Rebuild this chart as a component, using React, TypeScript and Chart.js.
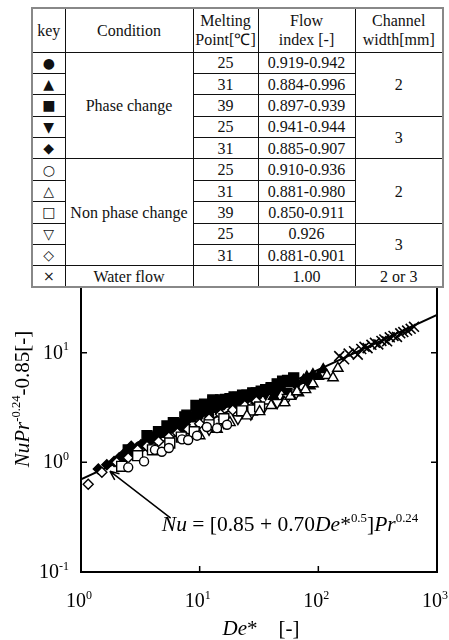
import React, { useEffect, useRef } from "react";
import { Chart, registerables } from "chart.js";

Chart.register(...registerables);

const SERIF = '"Liberation Serif", "Times New Roman", serif';

// ---------- table content ----------
const tableHeaders = ["key", "Condition", "Melting\nPoint[℃]", "Flow\nindex [-]", "Channel\nwidth[mm]"];
const tableKeys = ["●", "▲", "■", "▼", "◆", "○", "△", "□", "▽", "◇", "×"];
const meltingPoints = ["25", "31", "39", "25", "31", "25", "31", "39", "25", "31", ""];
const flowIndex = ["0.919-0.942", "0.884-0.996", "0.897-0.939", "0.941-0.944", "0.885-0.907", "0.910-0.936", "0.881-0.980", "0.850-0.911", "0.926", "0.881-0.901", "1.00"];
const conditions = ["Phase change", "Non phase change", "Water flow"];
const channelWidths = ["2", "3", "2", "3", "2 or 3"];

// ---------- chart data: [De*, NuPr^-0.24 - 0.85] ----------
const pc25w2: [number, number][] = [[2.2, 1.1], [2.6, 1.25], [2.9, 1.3], [3.1, 1.4], [3.5, 1.5], [3.8, 1.6], [4.2, 1.7], [4.5, 1.8], [5, 1.9], [5.5, 2.0], [6, 2.1], [6.5, 2.25], [7, 2.1], [7.5, 2.4], [8, 2.55], [8.8, 2.6], [9.5, 2.8], [10, 2.9], [11, 3.0], [12, 2.7], [13, 3.3], [15, 3.3], [16, 3.5], [17.5, 3.6], [19, 3.7], [21, 3.8], [23, 3.9], [26, 4.0], [28, 4.2], [31, 4.3], [34, 4.5]];
const pc31w2: [number, number][] = [[4, 1.6], [5, 1.8], [6.5, 2.1], [7.5, 2.35], [8.5, 2.5], [9.5, 2.75], [11, 2.9], [12.5, 3.05], [14, 3.2], [16, 3.4], [18, 3.6], [20, 3.7], [22, 3.8], [24, 3.9], [27, 4.1], [30, 3.7], [33, 4.4], [36, 4.5], [40, 4.6], [42, 4.0], [45, 4.8], [48, 5.0], [50, 3.5], [55, 5.2], [60, 5.3], [65, 5.5], [68, 4.3], [75, 5.6], [80, 6.0], [85, 5.0], [90, 6.3], [100, 6.1], [110, 7.0]];
const pc39w2: [number, number][] = [[2.5, 1.3], [3.6, 1.75], [4.5, 1.9], [5.3, 2.15], [6, 2.3], [7.5, 2.6], [7.8, 2.7], [9.3, 3.3], [10, 3.2], [11, 3.4], [12.9, 3.7], [13, 3.6], [15, 3.7], [16.5, 3.75], [18, 3.8], [19.5, 3.95], [21, 3.9], [23, 4.1], [25, 4.1], [28, 4.3], [30, 4.3], [33, 4.45], [36, 4.6], [40, 4.8], [45, 5.2], [50, 5.5], [55, 5.6], [62, 5.9]];
const pc25w3: [number, number][] = [[10, 2.6], [14, 3.0], [20, 3.4], [28, 3.8], [36, 4.2], [45, 4.5], [54, 4.4], [65, 5.0], [80, 5.5]];
const pc31w3: [number, number][] = [[1.4, 0.87], [1.65, 0.95], [1.9, 1.02], [2.1, 1.1], [2.3, 1.2], [2.65, 1.4], [2.8, 1.3], [3.2, 1.45], [3.5, 1.5], [4, 1.7], [4.5, 1.8], [5, 1.9], [5.5, 2.0], [6, 2.15], [6.8, 2.25], [7.5, 2.4], [8.2, 2.55], [9, 2.7], [10, 2.8], [11, 3.0], [12.5, 3.1], [14, 3.2], [16, 3.35], [18, 3.5], [21, 3.6], [24, 3.8], [28, 4.0], [32, 4.2]];
const npc25w2: [number, number][] = [[2.5, 0.9], [3.4, 1.02], [4.2, 1.3], [4.8, 1.25], [5.5, 1.35], [7.1, 1.62], [8, 1.6], [9.5, 1.75], [11.5, 2.1], [14, 2.05], [17, 2.2]];
const npc31w2: [number, number][] = [[10, 1.75], [14, 2.0], [18, 2.3], [25, 2.65], [32, 2.9], [40, 3.3], [52, 3.5], [58, 4.0], [66, 4.4], [78, 4.6], [90, 5.2], [118, 6.2], [133, 5.9], [146, 7.2]];
const npc39w2: [number, number][] = [[2.2, 0.92], [3, 1.15], [4, 1.3], [5.6, 1.5], [7, 1.7], [9, 1.9], [12, 2.2], [16, 2.5], [22.6, 2.95], [28, 3.0], [32, 3.2]];
const npc25w3: [number, number][] = [[12, 2.0], [16, 2.3], [21, 2.5], [27, 2.75], [35, 3.2], [45, 3.5], [55, 3.9], [65, 4.3]];
const npc31w3: [number, number][] = [[1.15, 0.63], [1.5, 0.81], [2.0, 1.0], [2.5, 1.1], [3.0, 1.3], [3.6, 1.4], [4.5, 1.55], [5.5, 1.7], [6.5, 1.85], [8, 2.0], [10, 2.25], [12, 2.5], [15, 2.75], [19, 3.0], [24, 3.3], [30, 3.6]];
const waterFlow: [number, number][] = [[150, 9.3], [165, 8.7], [180, 9.8], [200, 10.3], [215, 9.6], [230, 10.8], [245, 11.3], [260, 11.0], [280, 11.8], [300, 12.3], [320, 11.9], [340, 12.8], [360, 13.2], [380, 12.7], [400, 13.8], [430, 14.2], [460, 13.9], [490, 15.0], [520, 15.4], [560, 15.9], [600, 16.5], [640, 17.2]];

// correlation line Nu = [0.85 + 0.70 De*^0.5] Pr^0.24
const fitDe = [1, 1000];
const fitY = [0.70, 22.14];

// axis ticks
const xTickValues = [1, 10, 100, 1000];
const xTickExp = ["0", "1", "2", "3"];
const yTickValues = [0.1, 1, 10];
const yTickExp = ["-1", "0", "1"];

// annotation (data coords)
const arrowTip = [1.75, 0.83];
const arrowTail = [5.7, 0.31];
const annotationAt = [4.8, 0.235];

type Part = { t: string; i?: boolean; sup?: boolean };

function partsWidth(ctx: CanvasRenderingContext2D, parts: Part[], size: number) {
  let w = 0;
  for (const p of parts) {
    const s = p.sup ? size * 0.6 : size;
    ctx.font = `${p.i ? "italic " : ""}${s}px ${SERIF}`;
    w += ctx.measureText(p.t).width;
  }
  return w;
}

function drawParts(ctx: CanvasRenderingContext2D, parts: Part[], x: number, y: number, size: number) {
  let cx = x;
  ctx.textAlign = "left";
  ctx.textBaseline = "alphabetic";
  for (const p of parts) {
    const s = p.sup ? size * 0.6 : size;
    ctx.font = `${p.i ? "italic " : ""}${s}px ${SERIF}`;
    ctx.fillText(p.t, cx, p.sup ? y - size * 0.42 : y);
    cx += ctx.measureText(p.t).width;
  }
}

const decoPlugin = {
  id: "deco",
  afterDatasetsDraw(chart: any) {
    const { ctx, chartArea: a, scales } = chart;
    const x = scales.x;
    const y = scales.y;
    ctx.save();
    ctx.fillStyle = "#000";
    ctx.strokeStyle = "#000";
    // frame
    ctx.lineWidth = 2;
    ctx.beginPath();
    ctx.moveTo(a.left, a.top);
    ctx.lineTo(a.left, a.bottom);
    ctx.lineTo(a.right, a.bottom);
    ctx.lineTo(a.right, a.top);
    ctx.stroke();
    // inward ticks
    ctx.lineWidth = 1.5;
    ctx.beginPath();
    xTickValues.forEach((v) => {
      const px = x.getPixelForValue(v);
      ctx.moveTo(px, a.bottom);
      ctx.lineTo(px, a.bottom - 6);
    });
    yTickValues.forEach((v) => {
      const py = y.getPixelForValue(v);
      ctx.moveTo(a.left, py);
      ctx.lineTo(a.left + 6, py);
      ctx.moveTo(a.right, py);
      ctx.lineTo(a.right - 6, py);
    });
    ctx.stroke();
    const fs = 20;
    // x tick labels
    xTickValues.forEach((v, k) => {
      const px = x.getPixelForValue(v);
      const parts: Part[] = [{ t: "10" }, { t: xTickExp[k], sup: true }];
      const w = partsWidth(ctx, parts, fs);
      drawParts(ctx, parts, px - w / 2 - 2, a.bottom + 35, fs);
    });
    // y tick labels
    yTickValues.forEach((v, k) => {
      const py = y.getPixelForValue(v);
      const parts: Part[] = [{ t: "10" }, { t: yTickExp[k], sup: true }];
      const w = partsWidth(ctx, parts, fs);
      drawParts(ctx, parts, 69 - w, py + 6, fs);
    });
    // x title
    const xt: Part[] = [{ t: "De", i: true }, { t: "*" }, { t: "    [-]" }];
    const xw = partsWidth(ctx, xt, 21);
    drawParts(ctx, xt, 261 - xw / 2, a.bottom + 63, 21);
    // y title
    const yt: Part[] = [{ t: "NuPr", i: true }, { t: "-0.24", sup: true }, { t: "-0.85[-]" }];
    const yw = partsWidth(ctx, yt, 21);
    ctx.save();
    ctx.translate(29, 399);
    ctx.rotate(-Math.PI / 2);
    drawParts(ctx, yt, -yw / 2, 0, 21);
    ctx.restore();
    // annotation arrow
    const tx = x.getPixelForValue(arrowTip[0]);
    const ty = y.getPixelForValue(arrowTip[1]);
    const sx = x.getPixelForValue(arrowTail[0]);
    const sy = y.getPixelForValue(arrowTail[1]);
    ctx.lineWidth = 1.5;
    ctx.beginPath();
    ctx.moveTo(sx, sy);
    ctx.lineTo(tx, ty);
    const ang = Math.atan2(ty - sy, tx - sx);
    const hl = 10;
    ctx.moveTo(tx, ty);
    ctx.lineTo(tx - hl * Math.cos(ang - 0.4), ty - hl * Math.sin(ang - 0.4));
    ctx.moveTo(tx, ty);
    ctx.lineTo(tx - hl * Math.cos(ang + 0.4), ty - hl * Math.sin(ang + 0.4));
    ctx.stroke();
    const ann: Part[] = [
      { t: "Nu", i: true }, { t: " = [0.85 + 0.70" }, { t: "De", i: true }, { t: "*" },
      { t: "0.5", sup: true }, { t: "]" }, { t: "Pr", i: true }, { t: "0.24", sup: true },
    ];
    drawParts(ctx, ann, x.getPixelForValue(annotationAt[0]), y.getPixelForValue(annotationAt[1]), 21.5);
    ctx.restore();
  },
};

function toPts(arr: [number, number][]) {
  return arr.map(([a, b]) => ({ x: a, y: b }));
}

function markerSet(label: string, data: [number, number][], style: string, filled: boolean, radius: number, rotation = 0, bw = 1.4) {
  return {
    type: "scatter" as const,
    label,
    data: toPts(data),
    pointStyle: style,
    pointRotation: rotation,
    pointRadius: radius,
    pointBackgroundColor: filled ? "#000" : "#fff",
    pointBorderColor: "#000",
    pointBorderWidth: bw,
    showLine: false,
  };
}

export default function App() {
  const ref = useRef<HTMLCanvasElement | null>(null);
  useEffect(() => {
    if (!ref.current) return;
    const chart = new Chart(ref.current, {
      type: "scatter",
      data: {
        datasets: [
          markerSet("× water", waterFlow, "crossRot", false, 7, 0, 1.6),
          markerSet("○", npc25w2, "circle", false, 4.5),
          markerSet("△", npc31w2, "triangle", false, 6),
          markerSet("□", npc39w2, "rect", false, 7),
          markerSet("▽", npc25w3, "triangle", false, 6, 180),
          markerSet("◇", npc31w3, "rectRot", false, 5),
          markerSet("●", pc25w2, "circle", true, 4.5),
          markerSet("▲", pc31w2, "triangle", true, 6),
          markerSet("■", pc39w2, "rect", true, 7),
          markerSet("▼", pc25w3, "triangle", true, 6, 180),
          markerSet("◆", pc31w3, "rectRot", true, 5),
          {
            type: "line" as const,
            label: "fit",
            data: fitDe.map((d, i) => ({ x: d, y: fitY[i] })),
            borderColor: "#000",
            borderWidth: 2,
            pointRadius: 0,
            showLine: true,
            fill: false,
          },
        ] as any,
      },
      options: {
        animation: false,
        responsive: false,
        layout: { padding: { left: 81, right: 12, top: 243, bottom: 68 } },
        plugins: { legend: { display: false }, tooltip: { enabled: false } },
        scales: {
          x: { type: "logarithmic", min: 1, max: 1000, display: false },
          y: { type: "logarithmic", min: 0.1, max: 100, display: false },
        },
      },
      plugins: [decoPlugin],
    });
    return () => chart.destroy();
  }, []);

  const cell: React.CSSProperties = {
    border: "1px solid #111",
    padding: 0,
    textAlign: "center",
    verticalAlign: "middle",
    lineHeight: "19px",
  };
  const keyCell: React.CSSProperties = { ...cell, fontFamily: '"DejaVu Sans", sans-serif', fontSize: 14, lineHeight: "16px" };
  const rowH = 21.4;

  const rows = tableKeys.map((k, i) => {
    const tds: React.ReactNode[] = [<td key="k" style={keyCell}>{k}</td>];
    if (i === 0) tds.push(<td key="c" rowSpan={5} style={cell}>{conditions[0]}</td>);
    if (i === 5) tds.push(<td key="c" rowSpan={5} style={cell}>{conditions[1]}</td>);
    if (i === 10) tds.push(<td key="c" style={cell}>{conditions[2]}</td>);
    tds.push(<td key="m" style={cell}>{meltingPoints[i]}</td>);
    tds.push(<td key="f" style={cell}>{flowIndex[i]}</td>);
    if (i === 0) tds.push(<td key="w" rowSpan={3} style={cell}>{channelWidths[0]}</td>);
    if (i === 3) tds.push(<td key="w" rowSpan={2} style={cell}>{channelWidths[1]}</td>);
    if (i === 5) tds.push(<td key="w" rowSpan={3} style={cell}>{channelWidths[2]}</td>);
    if (i === 8) tds.push(<td key="w" rowSpan={2} style={cell}>{channelWidths[3]}</td>);
    if (i === 10) tds.push(<td key="w" style={cell}>{channelWidths[4]}</td>);
    return <tr key={i} style={{ height: rowH }}>{tds}</tr>;
  });

  return (
    <div style={{ position: "absolute", left: 0, top: 0, width: 449, height: 640, background: "#fff" }}>
      <canvas ref={ref} width={449} height={640} style={{ position: "absolute", left: 0, top: 0, width: 449, height: 640 }} />
      <table
        style={{
          position: "absolute",
          left: 31,
          top: 7,
          width: 411,
          height: 280,
          borderCollapse: "collapse",
          border: "2px solid #888",
          background: "#fff",
          fontFamily: SERIF,
          fontSize: 16,
          tableLayout: "fixed",
          zIndex: 1,
          color: "#111",
        }}
      >
        <colgroup>
          <col style={{ width: 33 }} />
          <col style={{ width: 128 }} />
          <col style={{ width: 65 }} />
          <col style={{ width: 97 }} />
          <col style={{ width: 88 }} />
        </colgroup>
        <thead>
          <tr style={{ height: 44 }}>
            {tableHeaders.map((h, i) => (
              <th key={i} style={{ ...cell, fontWeight: "normal", whiteSpace: "pre-line" }}>{h}</th>
            ))}
          </tr>
        </thead>
        <tbody>{rows}</tbody>
      </table>
    </div>
  );
}
